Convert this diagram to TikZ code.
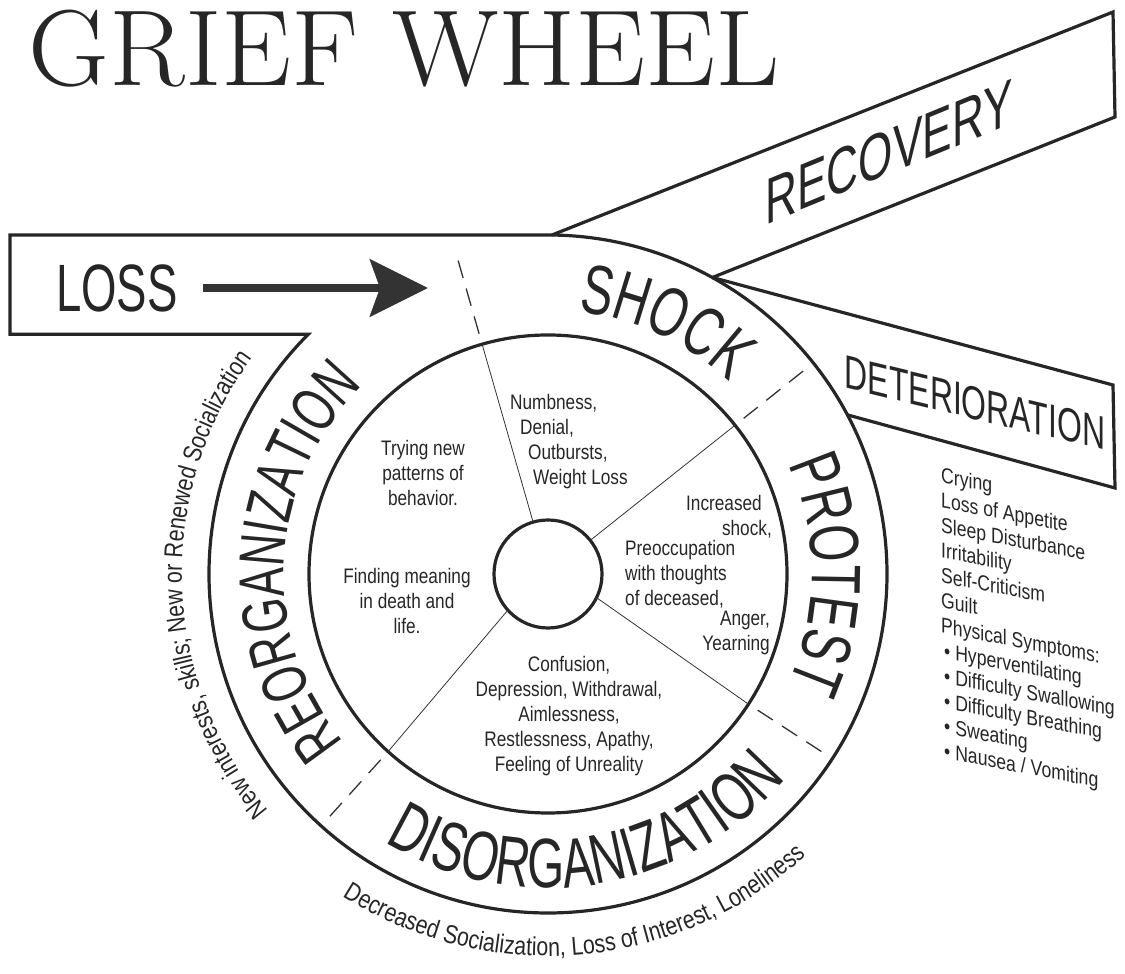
\documentclass[tikz,border=0pt]{standalone}
\usepackage{fontspec}
\newfontfamily\labelfont[FakeStretch=0.68]{Liberation Sans}
\newfontfamily\notefont[FakeStretch=0.82]{Liberation Sans}
\usetikzlibrary{arrows.meta,decorations.text}

\begin{document}
\begin{tikzpicture}[line cap=butt,line join=miter,x=1pt,y=1pt]
	\tikzset{
		rim/.style={line width=3.2pt,draw=black!85},
		divider/.style={line width=0.8pt,draw=black!80},
		ringdash/.style={line width=1.3pt,draw=black!80,dash pattern=on 18pt off 11pt},
		bandlabel/.style={inner sep=0pt,text=black!85},
		note/.style={inner sep=0pt,text=black!85,font=\notefont\fontsize{21}{25}\selectfont},
		lossarrow/.style={line width=8pt,draw=black!80,shorten <=25pt,-{Stealth[length=58pt,width=57pt,inset=10pt]}},
		ringtext/.style 2 args={decorate,decoration={text along path,text align=center,
				text={|\labelfont\fontsize{#1}{#1}\selectfont\color{black!85}|#2}}},
		outertext/.style={decorate,decoration={text along path,text align=center,
				text={|\notefont\fontsize{26}{26}\selectfont\color{black!85}|#1}}}
	}
	\useasboundingbox (0,0) rectangle (1125,974);
	\begin{scope}[shift={(548,400)}]
		\draw[rim] (-538,339) -- (-538,239.7) -- (135:339) arc[start angle=135,end angle=450,radius=339] -- cycle;
		\draw[rim] (4,339) -- (565,562) -- (567,457) -- (61:339);
		\draw[rim] (61:339) -- (565,189) -- (567,86) -- (28:339);
		\draw[rim] (0,0) circle[radius=239];
		\draw[rim] (0,0) circle[radius=54];
		\foreach \a/\b in {106/106,38.5/38.5,-26/-33,222/228}{
			\draw[divider] (\a:54) -- (\b:239);
			\draw[ringdash] (\b:250) -- (\b:336);
		}
		\path[ringtext={70}{SHOCK}] (125:264) arc[start angle=125,end angle=5,radius=264];
		\path[ringtext={70}{PROTEST}] (60:264) arc[start angle=60,end angle=-60,radius=264];
		\path[ringtext={70}{DISORGANIZATION}] (210:314) arc[start angle=210,end angle=348,radius=314];
		\path[ringtext={64}{REORGANIZATION}] (247:264) arc[start angle=247,end angle=107,radius=264];
		\path[outertext={New interests, skills; New or Renewed Socialization}] (250:366) arc[start angle=250,end angle=114,radius=366];
		\path[outertext={Decreased Socialization, Loss of Interest, Loneliness}] (205:382) arc[start angle=205,end angle=345,radius=382];
	\end{scope}

	\node[bandlabel,xscale=1.03,font=\fontsize{108}{108}\selectfont] (title) at (404,925) {GRIEF WHEEL};
	\node[bandlabel,font=\labelfont\fontsize{67}{67}\selectfont] (loss) at (117,686) {LOSS};
	\coordinate (tip) at (428,686);
	\draw[lossarrow] (loss) -- (tip);
	\node[bandlabel,yslant=0.41,font=\labelfont\fontsize{65}{65}\selectfont] (recovery) at (889,822) {RECOVERY};
	\node[bandlabel,yslant=-0.24,font=\labelfont\fontsize{47}{47}\selectfont] (deterioration) at (975,571) {DETERIORATION};

	\node[note,anchor=north west,align=left] (numbness) at (510,580) {Numbness,\\\hspace*{10pt}Denial,\\\hspace*{18pt}Outbursts,\\\hspace*{23pt}Weight Loss};
	\node[note,anchor=north,align=center] (trying) at (423,534) {Trying new\\patterns of\\behavior.};
	\node[note,anchor=north,align=center] (finding) at (407,406) {Finding meaning\\in death and\\life.};
	\node[note,anchor=north east,align=right] (increased) at (772,479) {Increased\hspace*{10pt}\\shock,};
	\node[note,anchor=north west,align=left] (preoccupation) at (625,434) {Preoccupation\\with thoughts\\of deceased,};
	\node[note,anchor=north east,align=right] (anger) at (770,363) {Anger,\\Yearning};
	\node[note,anchor=north,align=center] (confusion) at (569,318) {Confusion,\\Depression, Withdrawal,\\Aimlessness,\\Restlessness, Apathy,\\Feeling of Unreality};
	\node[note,font=\notefont\fontsize{21.5}{25}\selectfont,anchor=north west,align=left,yslant=-0.19] (symptoms) at (941,507)
		{Crying\\Loss of Appetite\\Sleep Disturbance\\Irritability\\Self-Criticism\\Guilt\\Physical Symptoms:\\
		\hspace*{3pt}• Hyperventilating\\\hspace*{3pt}• Difficulty Swallowing\\\hspace*{3pt}• Difficulty Breathing\\
		\hspace*{3pt}• Sweating\\\hspace*{3pt}• Nausea / Vomiting};
\end{tikzpicture}
\end{document}
